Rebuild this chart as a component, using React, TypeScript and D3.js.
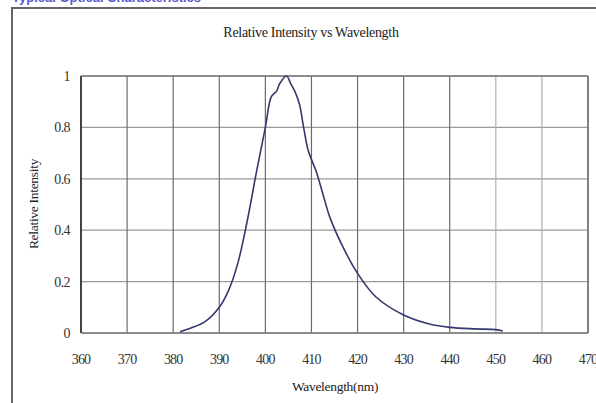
import React from "react";
import * as d3 from "d3";

const W = 596;
const H = 403;
const margin = { top: 76, right: 8, bottom: 70, left: 81 };

// spectrum (nm, relative intensity)
const wavelengths = [381.5, 384, 387, 390, 392, 394, 396, 398, 400, 401.3, 402.4, 403.1, 404.6, 405.5, 406.4, 407.4, 408.3, 409.3, 411, 412.5, 414, 416.8, 420, 424, 430, 435.6, 440, 445.7, 450, 451.5];
const intensity = [0.005, 0.02, 0.045, 0.1, 0.165, 0.27, 0.43, 0.62, 0.8, 0.92, 0.94, 0.97, 1.0, 0.97, 0.94, 0.89, 0.8, 0.71, 0.63, 0.54, 0.45, 0.336, 0.232, 0.14, 0.07, 0.035, 0.022, 0.016, 0.013, 0.008];

const xTicks = [360, 370, 380, 390, 400, 410, 420, 430, 440, 450, 460, 470];
const yTicks = [0, 0.2, 0.4, 0.6, 0.8, 1];
const yTickLabels = ["0", "0.2", "0.4", "0.6", "0.8", "1"];

const title = "Relative Intensity vs Wavelength";
const xTitle = "Wavelength(nm)";
const yTitle = "Relative Intensity";

const font = "'Liberation Serif', 'DejaVu Serif', serif";

const App = () => {
  const x = d3.scaleLinear().domain([360, 470]).range([margin.left, W - margin.right]);
  const y = d3.scaleLinear().domain([0, 1]).range([H - margin.bottom, margin.top]);

  const points = wavelengths.map((w, i) => ({ w, v: intensity[i] }));
  const line = d3
    .line<{ w: number; v: number }>()
    .x((d) => x(d.w))
    .y((d) => y(d.v))
    .curve(d3.curveCatmullRom.alpha(0.5));

  const x0 = x(360);
  const x1 = x(470);
  const y0 = y(0);
  const y1 = y(1);

  return (
    <div style={{ position: "absolute", left: 0, top: 0 }}>
      <svg width={W} height={H} style={{ display: "block", background: "#fff" }}>
        {/* heading cut off at the top of the scan */}
        <text x={12} y={2} fill="#5a5ad0" fontSize={13} fontWeight="bold" fontFamily="Arial, sans-serif">
          Typical Optical Characteristics
        </text>
        {/* outer frame */}
        <rect x={12} y={8} width={W} height={H} fill="none" stroke="#666" strokeWidth={2} />

        <text x={311} y={37} textAnchor="middle" fontSize={14} fontFamily={font} fill="#222" letterSpacing={-0.3}>
          {title}
        </text>

        {/* grid */}
        {yTicks.map((t) => (
          <line key={"h" + t} x1={x0} x2={x1} y1={y(t)} y2={y(t)} stroke="#9a9a9a" strokeWidth={1.2} />
        ))}
        {xTicks.map((t) => (
          <line key={"v" + t} x1={x(t)} x2={x(t)} y1={y1} y2={y0} stroke={t >= 450 ? "#b0b0b0" : "#6a6a6a"} strokeWidth={1.2} />
        ))}
        <line x1={x0} x2={x0} y1={y1} y2={y0} stroke="#222" strokeWidth={1.5} />
        <line x1={x1} x2={x1} y1={y1} y2={y0} stroke="#666" strokeWidth={1.5} />
        <line x1={x0} x2={x1} y1={y0} y2={y0} stroke="#777" strokeWidth={1.5} />
        <line x1={x0} x2={x1} y1={y1} y2={y1} stroke="#777" strokeWidth={1.5} />

        {/* y tick labels */}
        {yTicks.map((t, i) => (
          <text key={"yl" + t} x={70} y={y(t) + 5} textAnchor="end" fontSize={14} fontFamily={font} fill="#333" letterSpacing={-0.6}>
            {yTickLabels[i]}
          </text>
        ))}
        {/* x tick labels */}
        {xTicks.map((t) => (
          <text key={"xl" + t} x={x(t)} y={364} textAnchor="middle" fontSize={14} fontFamily={font} fill="#333" letterSpacing={-0.8}>
            {t}
          </text>
        ))}

        <text x={335} y={391} textAnchor="middle" fontSize={13.5} fontFamily={font} fill="#222" letterSpacing={-0.3}>
          {xTitle}
        </text>
        <text transform={`translate(38,204) rotate(-90)`} textAnchor="middle" fontSize={13.5} fontFamily={font} fill="#222" letterSpacing={-0.3}>
          {yTitle}
        </text>

        <path d={line(points) ?? ""} fill="none" stroke="#34386f" strokeWidth={1.6} />
      </svg>
    </div>
  );
};

export default App;
